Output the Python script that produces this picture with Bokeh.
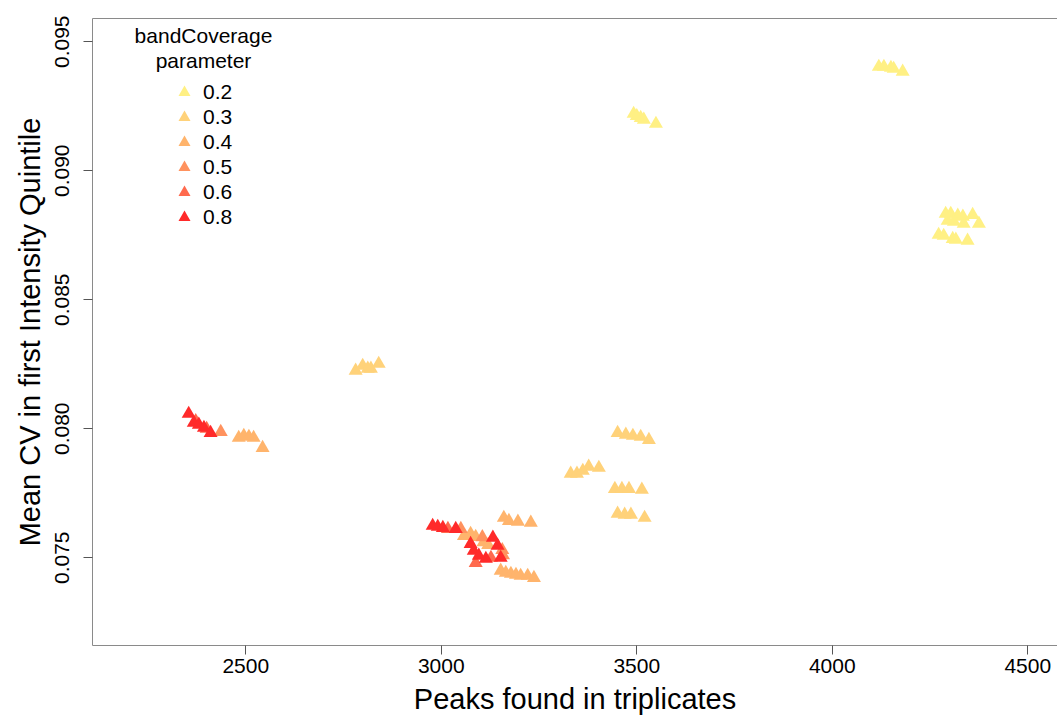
from bokeh.plotting import figure
from bokeh.models import Range1d, LinearAxis, FixedTicker, Legend, LegendItem, Label
from bokeh.embed import file_html
from bokeh.resources import INLINE

# ---- data ----
levels = ["0.2", "0.3", "0.4", "0.5", "0.6", "0.8"]
colors = ["#FFF084", "#FFD27A", "#FFB46C", "#FF925E", "#FF6A4E", "#FF2A2A"]

x_02 = [4119, 4132, 4150, 4157, 4180,
        3492, 3500, 3510, 3518, 3549,
        4290, 4303, 4321, 4334, 4359,
        4295, 4311, 4336, 4375,
        4272, 4285, 4308, 4316, 4346]
y_02 = [0.09403, 0.09403, 0.09399, 0.09395, 0.09384,
        0.09221, 0.09212, 0.09205, 0.09198, 0.09182,
        0.08833, 0.08833, 0.08826, 0.08822, 0.08829,
        0.08806, 0.08802, 0.08795, 0.08795,
        0.08752, 0.08748, 0.08736, 0.08733, 0.08729]

x_03 = [2781, 2799, 2812, 2820, 2840,
        3331, 3347, 3362, 3377, 3403,
        3451, 3472, 3490, 3510, 3531,
        3444, 3462, 3480, 3513,
        3451, 3469, 3485, 3520]
y_03 = [0.08225, 0.08244, 0.08233, 0.08233, 0.08252,
        0.07826, 0.07826, 0.07837, 0.07853, 0.07849,
        0.07984, 0.07977, 0.07973, 0.07969, 0.07957,
        0.07767, 0.07767, 0.07767, 0.07764,
        0.07671, 0.07667, 0.07667, 0.07655]

x_04 = [2482, 2495, 2508, 2520, 2543,
        3160, 3173, 3196, 3229,
        3152, 3165, 3178, 3191, 3203, 3221, 3237,
        3058, 3075, 3088, 3108, 3120]
y_04 = [0.07965, 0.07973, 0.07969, 0.07965, 0.07926,
        0.07655, 0.07643, 0.07640, 0.07636,
        0.07450, 0.07442, 0.07438, 0.07434, 0.07430, 0.07430, 0.07422,
        0.07585, 0.07593, 0.07581, 0.07560, 0.07550]

x_05 = [2436, 3050, 3105, 3156, 3158]
y_05 = [0.07988, 0.07612, 0.07580, 0.07530, 0.07510]

x_06 = [2372, 2400, 3017, 3088, 3127]
y_06 = [0.08030, 0.08000, 0.07612, 0.07480, 0.07500]

x_08 = [2354, 2367, 2380, 2393, 2410,
        2978, 2991, 3004, 3037,
        3075, 3083, 3096, 3114, 3132, 3144, 3152]
y_08 = [0.08058, 0.08023, 0.08016, 0.08004, 0.07984,
        0.07624, 0.07620, 0.07616, 0.07612,
        0.07554, 0.07527, 0.07508, 0.07496, 0.07578, 0.07547, 0.07500]

series_x = [x_02, x_03, x_04, x_05, x_06, x_08]
series_y = [y_02, y_03, y_04, y_05, y_06, y_08]

x_ticks = [2500, 3000, 3500, 4000, 4500]
y_ticks = [0.075, 0.080, 0.085, 0.090, 0.095]

FONT = "Liberation Sans"
GRAY = "#8a8a8a"

p = figure(width=1057, height=718, output_backend="svg", toolbar_location=None,
           x_range=Range1d(2108, 4576), y_range=Range1d(0.0716, 0.0959),
           min_border_left=92, min_border_right=0, min_border_top=18, min_border_bottom=73,
           x_axis_label="Peaks found in triplicates",
           y_axis_label="Mean CV in first Intensity Quintile")
p.outline_line_color = None
p.grid.visible = False
p.background_fill_color = "white"

for ax in (p.xaxis[0], p.yaxis[0]):
    ax.axis_line_color = GRAY
    ax.major_tick_line_color = "#555555"
    ax.major_tick_out = 9
    ax.major_tick_in = 0
    ax.minor_tick_line_color = None
    ax.major_label_text_font = FONT
    ax.major_label_text_font_size = "21px"
    ax.major_label_text_color = "black"
    ax.axis_label_text_font = FONT
    ax.axis_label_text_font_size = "29px"
    ax.axis_label_text_font_style = "normal"
    ax.axis_label_text_color = "black"

p.xaxis.ticker = FixedTicker(ticks=x_ticks)
p.yaxis.ticker = FixedTicker(ticks=y_ticks)
p.xaxis.major_label_overrides = {t: str(t) for t in x_ticks}
p.yaxis.major_label_overrides = {t: f"{t:.3f}" for t in y_ticks}
p.yaxis.major_label_orientation = "vertical"
p.xaxis.major_label_standoff = 4
p.yaxis.major_label_standoff = 14
p.xaxis.axis_label_standoff = 7
p.yaxis.axis_label_standoff = 7

top_axis = LinearAxis(ticker=FixedTicker(ticks=[]), axis_line_color=GRAY,
                      major_tick_line_color=None, minor_tick_line_color=None,
                      major_label_text_font_size="0px")
p.add_layout(top_axis, "above")

for i, (lev, col, xs, ys) in enumerate(zip(levels, colors, series_x, series_y)):
    r = p.scatter(xs, ys, marker="triangle", size=14, fill_color=col, line_color=None)
    lg = Legend(items=[LegendItem(label=lev, renderers=[r])],
                location=(77, 538 - 25 * i),
                glyph_width=30, glyph_height=30, label_height=30,
                label_standoff=4, padding=0, margin=0,
                label_text_font=FONT, label_text_font_size="21px",
                label_text_color="black",
                border_line_color=None, background_fill_alpha=0)
    p.add_layout(lg, "center")

for txt, yy in (("bandCoverage", 610), ("parameter", 585)):
    p.add_layout(Label(x=111, y=yy, x_units="screen", y_units="screen", text=txt,
                       text_align="center", text_baseline="middle",
                       text_font=FONT, text_font_size="21px", text_color="black"))

open("out.html", "w").write(file_html(p, INLINE))
